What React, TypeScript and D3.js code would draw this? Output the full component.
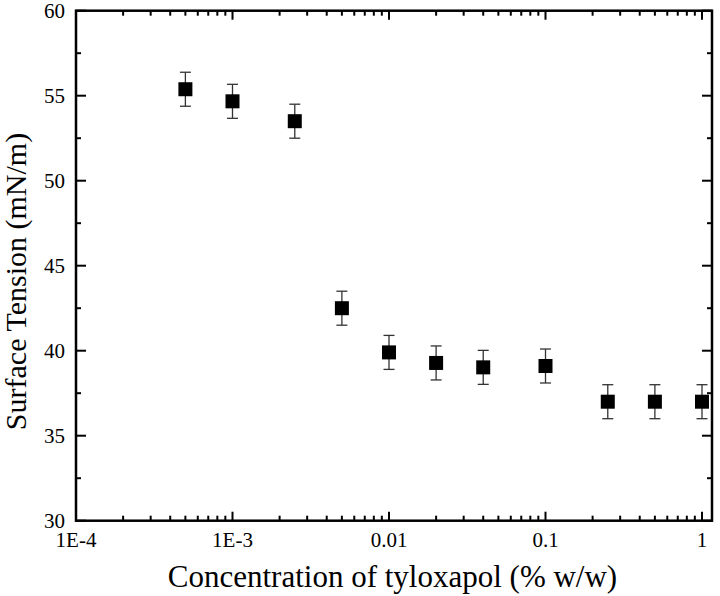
import React from "react";
import * as d3 from "d3";

const concentrations = [5e-4, 1e-3, 2.5e-3, 5e-3, 0.01, 0.02, 0.04, 0.1, 0.25, 0.5, 1];
const tensions = [55.38, 54.67, 53.5, 42.5, 39.9, 39.28, 39.02, 39.1, 37.0, 37.0, 37.0];
const errors = [1.0, 1.0, 1.0, 1.0, 1.0, 1.0, 1.0, 1.0, 1.0, 1.0, 1.0];
const xTickValues = [1e-4, 1e-3, 0.01, 0.1, 1];
const xTickLabels = ["1E-4", "1E-3", "0.01", "0.1", "1"];
const yTickValues = [30, 35, 40, 45, 50, 55, 60];
const yMinorValues = [32.5, 37.5, 42.5, 47.5, 52.5, 57.5];

const W = 720;
const H = 596;
const L = 76, R = 712, T = 10.7, B = 520.7;
const FONT = "'Liberation Serif', 'Times New Roman', serif";

export default function App() {
  const x = d3.scaleLog().domain([1e-4, Math.pow(10, (R - L) / 156.5 - 4)]).range([L, R]);
  const y = d3.scaleLinear().domain([30, 60]).range([B, T]);

  const minorX: number[] = [];
  for (let e = -4; e <= 0; e++) {
    for (let m = 2; m <= 9; m++) {
      const v = m * Math.pow(10, e);
      if (x(v) < R - 1) minorX.push(v);
    }
  }

  const box = 14;
  const cap = 5.5;

  return (
    <svg width={W} height={H} style={{ position: "absolute", left: 0, top: 0, background: "#fff" }}>
      <rect x={0} y={0} width={W} height={H} fill="#fff" />
      {xTickValues.map((v) => (
        <g key={"xt" + v}>
          <line x1={x(v)} x2={x(v)} y1={B} y2={B - 9} stroke="#000" strokeWidth={2} />
          <line x1={x(v)} x2={x(v)} y1={T} y2={T + 9} stroke="#000" strokeWidth={2} />
        </g>
      ))}
      {minorX.map((v) => (
        <g key={"xm" + v}>
          <line x1={x(v)} x2={x(v)} y1={B} y2={B - 5} stroke="#000" strokeWidth={2} />
          <line x1={x(v)} x2={x(v)} y1={T} y2={T + 5} stroke="#000" strokeWidth={2} />
        </g>
      ))}
      {yTickValues.map((v) => (
        <g key={"yt" + v}>
          <line x1={L} x2={L + 10} y1={y(v)} y2={y(v)} stroke="#000" strokeWidth={2} />
          <line x1={R} x2={R - 10} y1={y(v)} y2={y(v)} stroke="#000" strokeWidth={2} />
        </g>
      ))}
      {yMinorValues.map((v) => (
        <g key={"ym" + v}>
          <line x1={L} x2={L + 5} y1={y(v)} y2={y(v)} stroke="#000" strokeWidth={2} />
          <line x1={R} x2={R - 5} y1={y(v)} y2={y(v)} stroke="#000" strokeWidth={2} />
        </g>
      ))}
      <rect x={L} y={T} width={R - L} height={B - T} fill="none" stroke="#000" strokeWidth={2.5} />
      {xTickValues.map((v, i) => (
        <text key={"xl" + v} x={x(v)} y={546.5} textAnchor="middle" fontFamily={FONT} fontSize={21} fill="#000">
          {xTickLabels[i]}
        </text>
      ))}
      {yTickValues.map((v) => (
        <text key={"yl" + v} x={65} y={y(v) + 7} textAnchor="end" fontFamily={FONT} fontSize={21} fill="#000">
          {v}
        </text>
      ))}
      <text x={392.5} y={587} textAnchor="middle" fontFamily={FONT} fontSize={31} fill="#000">
        Concentration of tyloxapol (% w/w)
      </text>
      <text
        transform={`translate(${25.5},${281.5}) rotate(-90)`}
        textAnchor="middle"
        fontFamily={FONT}
        fontSize={30}
        fill="#000"
      >
        Surface Tension (mN/m)
      </text>
      {concentrations.map((c, i) => {
        const cx = x(c);
        const cy = y(tensions[i]);
        const top = y(tensions[i] + errors[i]);
        const bot = y(tensions[i] - errors[i]);
        return (
          <g key={"p" + i}>
            <line x1={cx} x2={cx} y1={top} y2={bot} stroke="#333" strokeWidth={1.3} />
            <line x1={cx - cap} x2={cx + cap} y1={top} y2={top} stroke="#333" strokeWidth={1.3} />
            <line x1={cx - cap} x2={cx + cap} y1={bot} y2={bot} stroke="#333" strokeWidth={1.3} />
            <rect x={cx - box / 2} y={cy - box / 2} width={box} height={box} fill="#000" />
          </g>
        );
      })}
    </svg>
  );
}
